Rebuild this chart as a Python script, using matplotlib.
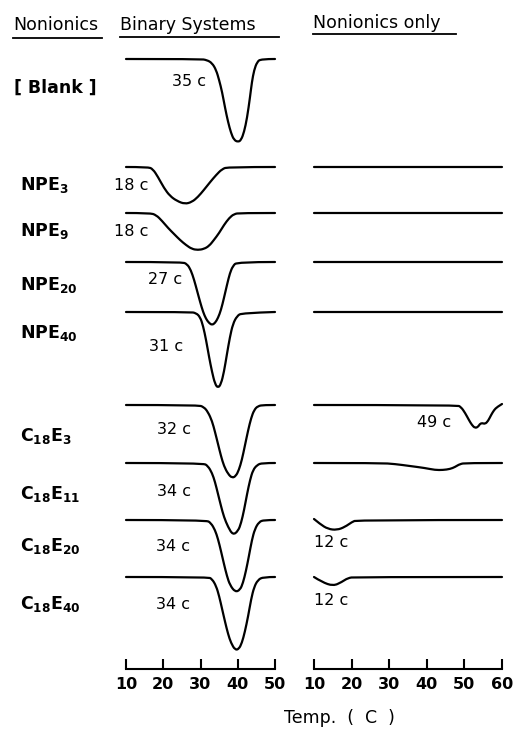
import matplotlib
matplotlib.use("Agg")
import matplotlib.pyplot as plt
from matplotlib.lines import Line2D
from matplotlib.path import Path
from matplotlib.patches import PathPatch

plt.rcParams["font.family"] = ["DejaVu Sans"]
plt.rcParams["mathtext.fontset"] = "dejavusans"

# ---------------- data ----------------
# temperatures (C) and downward deflection of each DSC trace
blank_T = [10, 29.9, 31.7, 33.1, 34.2, 35.0, 35.8, 36.6, 37.4, 38.2, 39.0, 40.1, 40.9, 41.7, 42.5, 43.3, 43.8, 44.4, 45.2, 46.2, 50]
blank_d = [0, 0, 1, 4, 11, 21, 33, 49, 63, 74, 81, 83, 81, 73, 59, 38, 23, 11, 3, 0, 0]

npe3_T = [10, 15.9, 17.2, 18.6, 20.2, 21.8, 23.7, 25.8, 27.7, 29.3, 30.9, 32.6, 34.2, 35.8, 37.4, 50]
npe3_d = [0, 0, 2, 10, 21, 29, 34, 37, 35, 30, 23, 15, 8, 2, 0, 0]

npe9_T = [10, 16.4, 18.1, 19.7, 21.3, 22.9, 24.5, 26.1, 27.7, 29.3, 30.9, 32.3, 33.6, 35.0, 36.3, 37.7, 39.0, 40.6, 50]
npe9_d = [0, 0, 2, 8, 15, 21, 27, 32, 36, 37, 36, 33, 27, 20, 12, 5, 1, 0, 0]

npe20_T = [10, 25.0, 26.4, 27.4, 28.3, 29.1, 29.9, 30.7, 31.5, 32.3, 33.1, 33.9, 34.7, 35.5, 36.3, 37.1, 37.9, 38.7, 39.8, 50]
npe20_d = [0, 0, 2, 8, 18, 29, 40, 50, 57, 61, 63, 61, 56, 48, 36, 23, 11, 4, 0, 0]

npe40_T = [10, 27.2, 28.8, 29.9, 30.7, 31.5, 32.3, 33.1, 33.9, 34.7, 35.5, 36.3, 37.1, 37.9, 38.7, 39.8, 41.1, 50]
npe40_d = [0, 0, 1, 5, 14, 28, 45, 60, 72, 76, 72, 60, 42, 25, 12, 4, 1, 0]

c18e3_T = [10, 29.3, 30.9, 32.0, 33.1, 33.9, 34.7, 35.5, 36.3, 37.4, 38.5, 39.5, 40.3, 41.1, 41.9, 42.8, 43.6, 44.4, 45.4, 47.0, 50]
c18e3_d = [0, 0, 2, 7, 16, 27, 39, 51, 61, 69, 73, 71, 65, 55, 41, 25, 13, 5, 1, 0, 0]

c18e11_T = [10, 30.7, 32.0, 33.1, 33.9, 34.7, 35.5, 36.3, 37.4, 38.7, 40.1, 40.9, 41.7, 42.5, 43.3, 44.1, 45.2, 46.5, 50]
c18e11_d = [0, 0, 3, 10, 19, 31, 43, 54, 64, 72, 68, 60, 47, 31, 17, 7, 2, 0, 0]

c18e20_T = [10, 31.5, 32.8, 33.9, 34.7, 35.5, 36.3, 37.1, 37.9, 39.3, 40.6, 41.4, 42.2, 43.0, 43.8, 44.6, 45.7, 47.0, 50]
c18e20_d = [0, 0, 3, 10, 19, 31, 44, 56, 65, 72, 70, 63, 51, 36, 20, 9, 2, 0, 0]

c18e40_T = [10, 32.0, 33.1, 34.2, 35.0, 35.8, 36.6, 37.4, 38.2, 39.3, 40.3, 41.1, 41.9, 42.8, 43.6, 44.4, 45.4, 46.8, 50]
c18e40_d = [0, 0, 2, 9, 19, 32, 45, 57, 66, 73, 72, 66, 55, 39, 22, 10, 3, 0, 0]

# nonionics only
n_npe_T = [10, 60]
n_npe_d = [0, 0]

n_c18e3_T = [10, 48.0, 49.1, 50.2, 51.2, 52.0, 52.8, 53.6, 54.1, 54.7, 55.5, 56.3, 57.1, 57.9, 58.7, 60.0]
n_c18e3_d = [0, 0, 2, 8, 15, 20, 23, 22, 19, 18, 19, 16, 10, 5, 2, -1]

n_c18e11_T = [10, 27.6, 31.5, 35.5, 39.5, 42.2, 44.3, 46.2, 47.5, 48.8, 50.4, 60]
n_c18e11_d = [0, 0, 1, 3, 5, 7, 7, 6, 4, 1, 0, 0]

n_c18e20_T = [10, 11.6, 13.7, 16.1, 18.2, 20.1, 21.4, 60]
n_c18e20_d = [-1, 4, 9, 10, 7, 2, 0, 0]

n_c18e40_T = [10, 12.1, 15.1, 17.4, 19.0, 20.9, 60]
n_c18e40_d = [0, 5, 9, 5, 1, 0, 0]

row_labels = [r"[ Blank ]", r"$\mathbf{NPE_{3}}$", r"$\mathbf{NPE_{9}}$", r"$\mathbf{NPE_{20}}$",
              r"$\mathbf{NPE_{40}}$", r"$\mathbf{C_{18}E_{3}}$", r"$\mathbf{C_{18}E_{11}}$",
              r"$\mathbf{C_{18}E_{20}}$", r"$\mathbf{C_{18}E_{40}}$"]
binary_onsets = ["35 c", "18 c", "18 c", "27 c", "31 c", "32 c", "34 c", "34 c", "34 c"]
binary_ticks = [10, 20, 30, 40, 50]
nonionic_ticks = [10, 20, 30, 40, 50, 60]

# ---------------- layout ----------------
W, H = 517, 732
fig = plt.figure(figsize=(W / 100, H / 100), dpi=100)
fig.patch.set_facecolor("white")

def fx(px):
    return px / W

def fy(py):
    return 1 - py / H

AX_BOTTOM = 669
axL = fig.add_axes([fx(126), fy(AX_BOTTOM), 149 / W, AX_BOTTOM / H])
axR = fig.add_axes([fx(314), fy(AX_BOTTOM), 188 / W, AX_BOTTOM / H])

row_base = [59, 167, 213, 262, 312, 405, 463, 520, 577]
label_base = [93, 190, 236, 290, 338, 441, 499, 551, 609]

binary = [(blank_T, blank_d), (npe3_T, npe3_d), (npe9_T, npe9_d), (npe20_T, npe20_d),
          (npe40_T, npe40_d), (c18e3_T, c18e3_d), (c18e11_T, c18e11_d),
          (c18e20_T, c18e20_d), (c18e40_T, c18e40_d)]
nonionic = [None, (n_npe_T, n_npe_d), (n_npe_T, n_npe_d), (n_npe_T, n_npe_d), (n_npe_T, n_npe_d),
            (n_c18e3_T, n_c18e3_d), (n_c18e11_T, n_c18e11_d), (n_c18e20_T, n_c18e20_d),
            (n_c18e40_T, n_c18e40_d)]

LW = 1.6


def smooth_trace(ax, T, y):
    """Draw a smooth pen-like trace: quadratic B-spline path through the read points."""
    pts = list(zip(T, y))
    if len(pts) < 3:
        verts, codes = pts, [Path.MOVETO, Path.LINETO]
    else:
        verts = [pts[0]]
        codes = [Path.MOVETO]
        for i in range(1, len(pts) - 2):
            mid = ((pts[i][0] + pts[i + 1][0]) / 2, (pts[i][1] + pts[i + 1][1]) / 2)
            verts += [pts[i], mid]
            codes += [Path.CURVE3, Path.CURVE3]
        verts += [pts[-2], pts[-1]]
        codes += [Path.CURVE3, Path.CURVE3]
    patch = PathPatch(Path(verts, codes), facecolor="none", edgecolor="black", lw=LW,
                      clip_on=False, joinstyle="round", capstyle="round")
    ax.add_patch(patch)


for i, (T, d) in enumerate(binary):
    smooth_trace(axL, T, [row_base[i] + v for v in d])
for i, tr in enumerate(nonionic):
    if tr is None:
        continue
    T, d = tr
    smooth_trace(axR, T, [row_base[i] + v for v in d])

for ax, ticks in ((axL, binary_ticks), (axR, nonionic_ticks)):
    ax.set_xlim(ticks[0], ticks[-1])
    ax.set_ylim(AX_BOTTOM, 0)
    ax.set_facecolor("none")
    for s in ("top", "left", "right"):
        ax.spines[s].set_visible(False)
    ax.spines["bottom"].set_linewidth(1.5)
    ax.set_yticks([])
    ax.set_xticks(ticks)
    ax.set_xticklabels([str(t) for t in ticks], fontsize=11.5, fontweight="bold")
    ax.tick_params(axis="x", direction="in", length=7, width=1.5, pad=6)

# ---------------- text ----------------
def ftext(x, y, s, **kw):
    fig.text(fx(x), fy(y), s, **kw)

ftext(13, 30, "Nonionics", fontsize=12.5, ha="left", va="baseline")
ftext(120, 30, "Binary Systems", fontsize=12.5, ha="left", va="baseline")
ftext(313, 28, "Nonionics only", fontsize=12.5, ha="left", va="baseline")
for x0, x1, y in ((13, 102, 38), (120, 279, 37), (313, 456, 34)):
    fig.add_artist(Line2D([fx(x0), fx(x1)], [fy(y), fy(y)], color="black", lw=1.3,
                          transform=fig.transFigure))

for i, lab in enumerate(row_labels):
    x = 14 if i == 0 else 20
    ftext(x, label_base[i], lab, fontsize=12.5, fontweight="bold", ha="left", va="baseline")

onset_pos = [(189, 86), (131, 190), (131, 236), (165, 284), (166, 351), (174, 434),
             (174, 496), (173, 551), (173, 609)]
for (x, y), s in zip(onset_pos, binary_onsets):
    ftext(x, y, s, fontsize=11.5, ha="center", va="baseline")

ftext(434, 427, "49 c", fontsize=11.5, ha="center", va="baseline")
ftext(331, 547, "12 c", fontsize=11.5, ha="center", va="baseline")
ftext(331, 605, "12 c", fontsize=11.5, ha="center", va="baseline")

ftext(339, 723, "Temp.  (  C  )", fontsize=12.5, ha="center", va="baseline")

fig.savefig("out.png", dpi=100, facecolor="white")
